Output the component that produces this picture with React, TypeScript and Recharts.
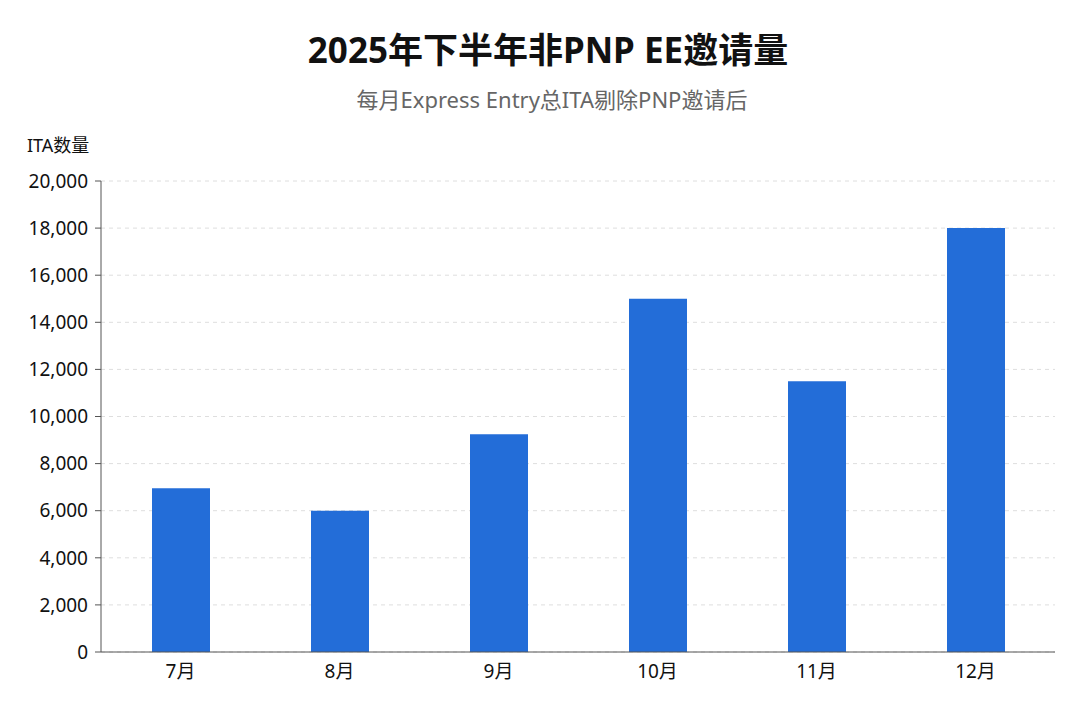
import { BarChart, Bar, XAxis, YAxis, CartesianGrid } from "recharts";

const months = ["7月", "8月", "9月", "10月", "11月", "12月"];
const invitations = [6950, 6000, 9250, 15000, 11500, 18000];
const yTicks = [0, 2000, 4000, 6000, 8000, 10000, 12000, 14000, 16000, 18000, 20000];

const data = months.map((month, i) => ({ month, ita: invitations[i] }));

const font = '"Noto Sans", "Noto Sans CJK SC", sans-serif';

export default function App() {
  return (
    <div style={{ position: "fixed", left: 0, top: 0, width: 1080, height: 720, background: "#fff", fontFamily: font }}>
      <div style={{ position: "absolute", top: 26, left: 0, width: 1096, textAlign: "center", fontSize: 35, fontWeight: 700, color: "#111", lineHeight: "48px" }}>
        2025年下半年非PNP EE邀请量
      </div>
      <div style={{ position: "absolute", top: 84, left: 0, width: 1104, textAlign: "center", fontSize: 22, color: "#666", lineHeight: "30px" }}>
        每月Express Entry总ITA剔除PNP邀请后
      </div>
      <div style={{ position: "absolute", top: 132, left: 27, fontSize: 18, color: "#111", lineHeight: "26px" }}>ITA数量</div>
      <div style={{ position: "absolute", left: 0, top: 0 }}>
        <BarChart width={1080} height={720} data={data} margin={{ top: 181, right: 25, bottom: 38, left: 0 }}>
          <CartesianGrid vertical={false} stroke="#dedede" strokeDasharray="4 4" />
          <XAxis
            dataKey="month"
            axisLine={{ stroke: "#555" }}
            tickLine={false}
            tickSize={11}
            tick={{ fontSize: 19, fill: "#111", fontFamily: font }}
          />
          <YAxis
            width={101}
            domain={[0, 20000]}
            ticks={yTicks}
            interval={0}
            axisLine={{ stroke: "#555" }}
            tickLine={{ stroke: "#555" }}
            tickSize={6}
            tickMargin={7}
            tickFormatter={(v: number) => v.toLocaleString("en-US")}
            tick={{ fontSize: 19, fill: "#111", fontFamily: font }}
          />
          <Bar dataKey="ita" fill="#236dd8" barSize={58} isAnimationActive={false} />
        </BarChart>
      </div>
    </div>
  );
}
